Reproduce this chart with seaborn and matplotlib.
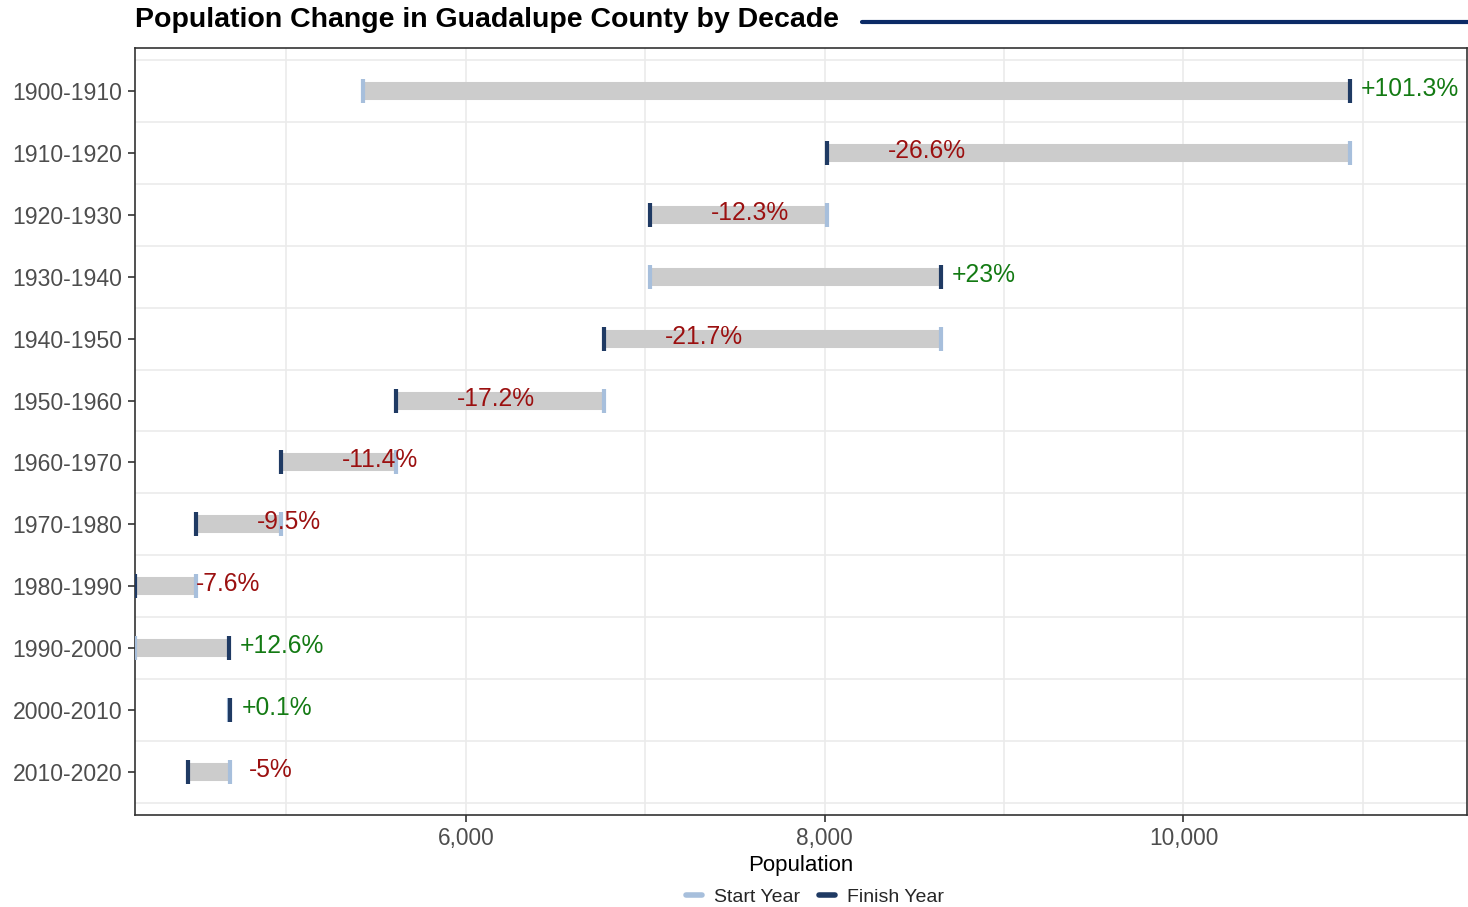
import numpy as np
import pandas as pd
import matplotlib
matplotlib.use("Agg")
import matplotlib.pyplot as plt
from matplotlib.lines import Line2D
import seaborn as sns

# Guadalupe County population, per decade
decades = ["1900-1910", "1910-1920", "1920-1930", "1930-1940", "1940-1950", "1950-1960",
           "1960-1970", "1970-1980", "1980-1990", "1990-2000", "2000-2010", "2010-2020"]
start_pop = [5429, 10927, 8015, 7027, 8646, 6772, 5610, 4969, 4496, 4156, 4680, 4687]
finish_pop = [10927, 8015, 7027, 8646, 6772, 5610, 4969, 4496, 4156, 4680, 4687, 4452]
pct_labels = ["+101.3%", "-26.6%", "-12.3%", "+23%", "-21.7%", "-17.2%",
              "-11.4%", "-9.5%", "-7.6%", "+12.6%", "+0.1%", "-5%"]

df = pd.DataFrame({"decade": decades, "start": start_pop, "finish": finish_pop, "label": pct_labels})
df["pos"] = np.arange(len(df))

sns.set_theme(style="white")
plt.rcParams["font.family"] = ["Liberation Sans", "DejaVu Sans"]

start_col = "#a7bfdc"
finish_col = "#1f3a63"
bar_col = "#cccccc"
green = "#137a13"
red = "#9b1010"

fig = plt.figure(figsize=(14.68, 9.07), dpi=100)
ax = fig.add_axes([135 / 1468, 1 - 815 / 907, 1 - 135 / 1468 - 0.0007, (815 - 48) / 907])

# grid
for gx in range(5000, 12000, 1000):
    ax.axvline(gx, color="#ebebeb", lw=1.2, zorder=0)
for gy in np.arange(-0.5, len(df), 1.0):
    ax.axhline(gy, color="#ebebeb", lw=1.2, zorder=0)

ax.hlines(df["pos"], df["start"], df["finish"], color=bar_col, lw=13, zorder=1)

long = pd.concat([
    pd.DataFrame({"x": df["start"], "y": df["pos"], "kind": "Start Year"}),
    pd.DataFrame({"x": df["finish"], "y": df["pos"], "kind": "Finish Year"}),
], ignore_index=True)
sns.scatterplot(data=long, x="x", y="y", hue="kind", marker="|", s=300, linewidth=3,
                palette={"Start Year": start_col, "Finish Year": finish_col},
                legend=False, ax=ax, zorder=3)

for _, r in df.iterrows():
    up = r["label"].startswith("+")
    ax.annotate(r["label"], xy=(r["finish"], r["pos"]), xytext=(11 if up else 61, 2),
                textcoords="offset pixels", ha="left", va="center", fontsize=17.7,
                color=green if up else red, zorder=4)

ax.set_xlim(4156, 11580)
ax.set_ylim(len(df) - 0.305, -0.695)
ax.set_yticks(df["pos"])
ax.set_yticklabels(df["decade"])
ax.set_xticks([6000, 8000, 10000])
ax.set_xticklabels(["6,000", "8,000", "10,000"])
ax.tick_params(axis="both", length=5, width=1.2, color="#333333", labelcolor="#4d4d4d",
               direction="out", bottom=True, left=True)
ax.tick_params(axis="y", labelsize=16.6, pad=4)
ax.tick_params(axis="x", labelsize=16.3, pad=4)
ax.set_xlabel("Population", fontsize=16, color="black", labelpad=3)
ax.set_ylabel("")
for sp in ax.spines.values():
    sp.set_color("#333333")
    sp.set_linewidth(1.2)

fig.text(135 / 1468, 1 - 20 / 907, "Population Change in Guadalupe County by Decade",
         fontsize=20.5, fontweight="bold", color="black", ha="left", va="center")
fig.add_artist(Line2D([862 / 1468, 1.0], [1 - 22 / 907, 1 - 22 / 907],
                      transform=fig.transFigure, color="#0b2a66", lw=3))

handles = [Line2D([], [], color=start_col, lw=4), Line2D([], [], color=finish_col, lw=4)]
fig.legend(handles, ["Start Year", "Finish Year"], loc="center", bbox_to_anchor=(815 / 1468, 1 - 897 / 907),
           ncol=2, frameon=False, fontsize=14, handlelength=0.8, handletextpad=0.6, columnspacing=1.0)

fig.savefig("out.png", dpi=100)
